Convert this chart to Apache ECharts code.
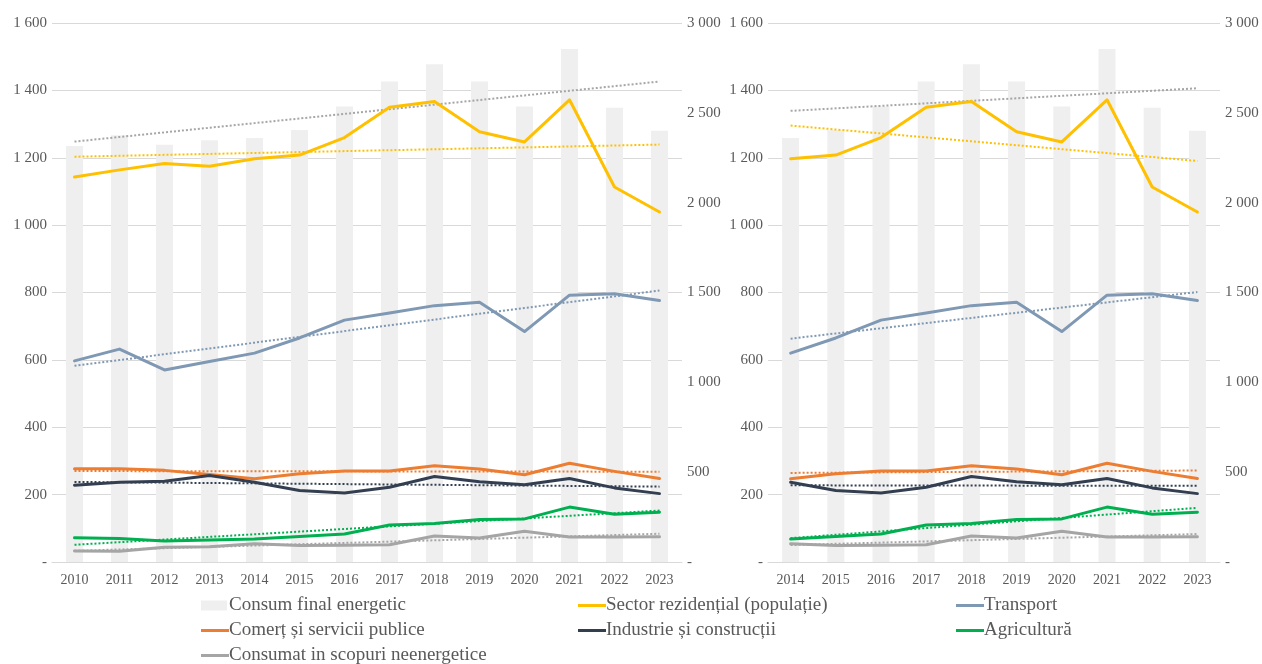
<!DOCTYPE html>
<html>
<head>
<meta charset="utf-8">
<script src="https://cdn.jsdelivr.net/npm/echarts@6/dist/echarts.min.js"></script>
<style>
  html, body { margin: 0; background: #fff; }
  #chart { width: 1262px; height: 664px; }
</style>
</head>
<body>
<div id="chart"></div>
<script>
// data (ktep)
var years = ["2010","2011","2012","2013","2014","2015","2016","2017","2018","2019","2020","2021","2022","2023"];
var consumFinal = [2315, 2375, 2323, 2347, 2360, 2405, 2535, 2675, 2770, 2675, 2535, 2855, 2528, 2400];
var rezidential = [1143, 1164, 1183, 1175, 1197, 1208, 1260, 1350, 1367, 1277, 1247, 1372, 1113, 1039];
var transport   = [597, 632, 570, 595, 620, 665, 718, 739, 761, 771, 684, 792, 796, 776];
var comert      = [277, 277, 272, 260, 247, 262, 270, 270, 286, 276, 259, 293, 269, 248];
var industrie   = [228, 237, 240, 257, 237, 212, 205, 222, 254, 238, 229, 248, 220, 203];
var agricultura = [72, 70, 62, 65, 68, 76, 83, 110, 114, 126, 128, 163, 142, 148];
var neenergetic = [33, 32, 44, 45, 54, 49, 50, 51, 77, 71, 91, 74, 74, 75];

var leftTicks = { min: 0, max: 1600, interval: 200 };
var rightTicks = { min: 0, max: 3000, interval: 500 };
var secondStart = 4; // right panel starts in 2014

var font = "Liberation Serif";
var gridColor = "#D9D9D9";
var labelColor = "#595959";

var lines = [
  { name: "Sector rezidențial (populație)", data: rezidential, color: "#FFC000" },
  { name: "Transport", data: transport, color: "#7F98B3" },
  { name: "Comerț și servicii publice", data: comert, color: "#ED7D31" },
  { name: "Industrie și construcții", data: industrie, color: "#333F50" },
  { name: "Agricultură", data: agricultura, color: "#00B050" },
  { name: "Consumat in scopuri neenergetice", data: neenergetic, color: "#A5A5A5" }
];

// linear trend (least squares), like the Excel trendline
function trend(vals){
  var n = vals.length, sx = 0, sy = 0, sxy = 0, sxx = 0;
  for (var i = 0; i < n; i++){
    sx += i; sy += vals[i]; sxy += i * vals[i]; sxx += i * i;
  }
  var b = (n * sxy - sx * sy) / (n * sxx - sx * sx);
  var a = (sy - b * sx) / n;
  return vals.map(function(v, i){ return Math.round((a + b * i) * 100) / 100; });
}

function fmt(v){
  if (v === 0) return "-";
  return String(v).replace(/\B(?=(\d{3})+(?!\d))/g, " ");
}

var chart = echarts.init(document.getElementById("chart"));

var grids = [
  { left: 52, right: 580, top: 23, bottom: 102 },
  { left: 768, right: 42, top: 23, bottom: 102 }
];

var xAxes = [], yAxes = [], series = [];

grids.forEach(function(g, p){
  var start = p === 0 ? 0 : secondStart;
  xAxes.push({
    type: "category",
    gridIndex: p,
    data: years.slice(start),
    axisLine: { lineStyle: { color: gridColor } },
    axisTick: { show: false },
    axisLabel: { color: labelColor, fontFamily: font, fontSize: 14, margin: 11 }
  });
  yAxes.push({
    type: "value",
    gridIndex: p,
    position: "left",
    min: leftTicks.min, max: leftTicks.max, interval: leftTicks.interval,
    axisLine: { show: false },
    axisTick: { show: false },
    splitLine: { lineStyle: { color: gridColor } },
    axisLabel: { color: labelColor, fontFamily: font, fontSize: 15, margin: 5, formatter: fmt }
  });
  yAxes.push({
    type: "value",
    gridIndex: p,
    position: "right",
    min: rightTicks.min, max: rightTicks.max, interval: rightTicks.interval,
    axisLine: { show: false },
    axisTick: { show: false },
    splitLine: { show: false },
    axisLabel: { color: labelColor, fontFamily: font, fontSize: 15, margin: 5, formatter: fmt }
  });

  var bars = consumFinal.slice(start);
  series.push({
    name: "Consum final energetic",
    type: "bar",
    xAxisIndex: p,
    yAxisIndex: p * 2 + 1,
    barWidth: 17,
    itemStyle: { color: "#EFEFEF" },
    data: bars
  });
  series.push({
    name: "Trend Consum final energetic",
    type: "line",
    xAxisIndex: p,
    yAxisIndex: p * 2 + 1,
    symbol: "none",
    silent: true,
    lineStyle: { color: "#A6A6A6", width: 2, type: [2, 2] },
    data: trend(bars)
  });

  lines.forEach(function(s){
    var vals = s.data.slice(start);
    series.push({
      name: s.name,
      type: "line",
      xAxisIndex: p,
      yAxisIndex: p * 2,
      symbol: "none",
      z: 4,
      itemStyle: { color: s.color },
      lineStyle: { color: s.color, width: 3, cap: "round", join: "round" },
      data: vals
    });
    series.push({
      name: "Trend " + s.name,
      type: "line",
      xAxisIndex: p,
      yAxisIndex: p * 2,
      symbol: "none",
      silent: true,
      z: 3,
      lineStyle: { color: s.color, width: 2, type: [2, 2] },
      data: trend(vals)
    });
  });
});

// legend placement: three columns, three rows
var legendPlaces = [
  { name: "Consum final energetic", left: 201, top: 596, bar: true },
  { name: "Sector rezidențial (populație)", left: 578, top: 596 },
  { name: "Transport", left: 956, top: 596 },
  { name: "Comerț și servicii publice", left: 201, top: 621 },
  { name: "Industrie și construcții", left: 578, top: 621 },
  { name: "Agricultură", left: 956, top: 621 },
  { name: "Consumat in scopuri neenergetice", left: 201, top: 646 }
];

var legends = legendPlaces.map(function(l){
  return {
    data: [l.name],
    left: l.left,
    top: l.top,
    padding: 0,
    icon: "rect",
    itemWidth: l.bar ? 26 : 28,
    itemHeight: l.bar ? 10 : 3,
    selectedMode: false,
    textStyle: { color: labelColor, fontFamily: font, fontSize: 19, padding: [0, 0, 0, l.bar ? -3 : -5] }
  };
});

chart.setOption({
  animation: false,
  grid: grids,
  xAxis: xAxes,
  yAxis: yAxes,
  legend: legends,
  series: series
});
</script>
</body>
</html>
